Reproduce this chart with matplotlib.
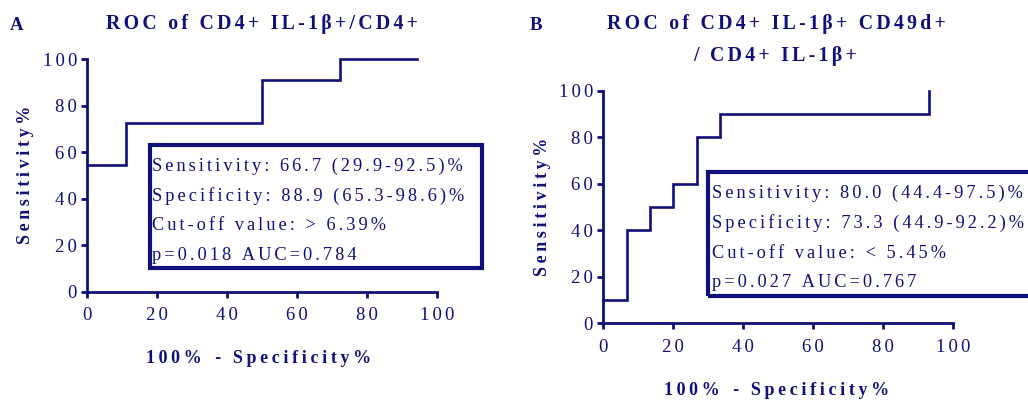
import matplotlib
matplotlib.use('Agg')
import matplotlib.pyplot as plt
from matplotlib.patches import Rectangle

# Daten der beiden ROC-Kurven (Treppenstufen)
fpr_a = [0, 11.1, 11.1, 50.0, 50.0, 72.2, 72.2, 94.4]
tpr_a = [54.5, 54.5, 72.7, 72.7, 90.9, 90.9, 100, 100]

fpr_b = [0, 6.7, 6.7, 13.3, 13.3, 20.0, 20.0, 26.7, 26.7, 33.3, 33.3, 93.3, 93.3]
tpr_b = [10, 10, 40, 40, 50, 50, 60, 60, 80, 80, 90, 90, 100]

ticks = [0, 20, 40, 60, 80, 100]

title_a = ["ROC of CD4+ IL-1β+/CD4+"]
title_b = ["ROC of CD4+ IL-1β+ CD49d+", "/ CD4+ IL-1β+"]

stats_a = ["Sensitivity: 66.7 (29.9-92.5)%",
           "Specificity: 88.9 (65.3-98.6)%",
           "Cut-off value: > 6.39%",
           "p=0.018 AUC=0.784"]
stats_b = ["Sensitivity: 80.0 (44.4-97.5)%",
           "Specificity: 73.3 (44.9-92.2)%",
           "Cut-off value: < 5.45%",
           "p=0.027 AUC=0.767"]

NAVY = '#10107a'
W, H = 1028, 400
plt.rcParams['font.family'] = ['Liberation Serif', 'DejaVu Serif']


def spaced(s, sep='\u2006'):
    # gesperrte Schrift wie im Original (Sechstelgeviert zwischen den Zeichen)
    return sep.join(s)


def fx(px):
    return px / W


def fy(py):
    return 1 - py / H


fig = plt.figure(figsize=(W / 100, H / 100), dpi=100)


def panel(rect, x, y):
    ax = fig.add_axes(rect)
    ax.plot(x, y, color=NAVY, lw=1.9, clip_on=False, solid_joinstyle='miter')
    ax.set_xlim(0, 100)
    ax.set_ylim(0, 100)
    for s in ['top', 'right']:
        ax.spines[s].set_visible(False)
    for s in ['left', 'bottom']:
        ax.spines[s].set_color(NAVY)
        ax.spines[s].set_linewidth(2)
    ax.set_xticks(ticks)
    ax.set_yticks(ticks)
    ax.set_xticklabels([spaced(str(t)) for t in ticks])
    ax.set_yticklabels([spaced(str(t)) for t in ticks])
    ax.tick_params(direction='out', length=4.5, width=2, color=NAVY,
                   labelcolor=NAVY, labelsize=13.5)
    ax.tick_params(axis='x', pad=6.5)
    ax.tick_params(axis='y', pad=3)
    ax.patch.set_alpha(0)
    return ax


ax_a = panel([fx(87.3), fy(292), fx(437 - 87.3), (292 - 59.3) / H], fpr_a, tpr_a)
ax_b = panel([fx(603.3), fy(323.3), fx(952.7 - 603.3), (323.3 - 90.7) / H], fpr_b, tpr_b)

# Panelbuchstaben und Titel
fig.text(fx(10), fy(30), 'A', fontsize=13.5, fontweight='bold', color=NAVY, va='baseline')
fig.text(fx(530), fy(30), 'B', fontsize=13.5, fontweight='bold', color=NAVY, va='baseline')
fig.text(fx(262), fy(29.5), spaced(title_a[0]), fontsize=14.3, fontweight='bold',
         color=NAVY, ha='center', va='baseline')
fig.text(fx(776.5), fy(29.5), spaced(title_b[0]), fontsize=14.3, fontweight='bold',
         color=NAVY, ha='center', va='baseline')
fig.text(fx(775.5), fy(61.5), spaced(title_b[1]), fontsize=14.3, fontweight='bold',
         color=NAVY, ha='center', va='baseline')

# Achsenbeschriftungen
for xc, yc in [(25.8, 174.5), (542.5, 206.7)]:
    fig.text(fx(xc), fy(yc), spaced('Sensitivity%', '\u2009'), rotation=90, fontsize=13,
             fontweight='bold', color=NAVY, ha='center', va='center')
for xc, yb in [(259, 362.7), (777, 395)]:
    fig.text(fx(xc), fy(yb), spaced('100%', '\u2009') + '   ' + spaced('- Specificity%', '\u2009'),
             fontsize=13, fontweight='bold', color=NAVY, ha='center', va='baseline')

# Kasten mit Kennzahlen
boxes = [((149.5, 145, 482, 268), 152, [170.7, 200.5, 230, 259.5], stats_a),
         ((708, 172, 1060, 296), 711.7, [198, 228, 257.5, 287], stats_b)]
for (l, t, r, b), tx, ys, lines in boxes:
    fig.patches.append(Rectangle((fx(l), fy(b)), fx(r - l), (b - t) / H,
                                 transform=fig.transFigure, fill=False,
                                 edgecolor=NAVY, lw=3, clip_on=False))
    for yb, line in zip(ys, lines):
        fig.text(fx(tx), fy(yb), spaced(line), fontsize=13.2, color=NAVY, va='baseline')

fig.savefig('out.png', dpi=100)
